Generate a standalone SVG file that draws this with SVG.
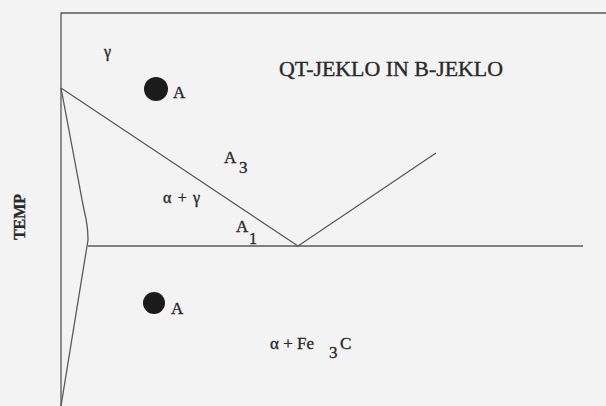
<svg xmlns="http://www.w3.org/2000/svg" width="606" height="406" viewBox="0 0 606 406">
<style>
.ln{fill:none;stroke:#5a5a5a;stroke-width:1.3}
text{font-family:'Liberation Serif', 'DejaVu Serif', serif;fill:#2a2a2a;stroke:#2a2a2a;stroke-width:0.35}
.dot{fill:#1c1c1c}
</style>
<rect x="0" y="0" width="606" height="406" fill="#f3f3f3"/>
<g id="connectors">
<path class="ln" d="M606,13 H61 V406"/>
<path class="ln" d="M61,88 L298,246 L436,153"/>
<path class="ln" d="M88,246 H583"/>
<path class="ln" d="M61,88 L84,210 Q88,225 88,240 L61,406"/>
</g>
<g id="title"><text x="279" y="76" font-size="20" textLength="224" lengthAdjust="spacingAndGlyphs">QT-JEKLO IN B-JEKLO</text></g>
<g id="gamma"><text x="104" y="57" font-size="16">γ</text></g>
<g id="pointA1"><circle class="dot" cx="156" cy="89" r="12"/><text x="173" y="98" font-size="17">A</text></g>
<g id="A3"><text x="224" y="163" font-size="17">A</text><text x="239" y="173" font-size="17">3</text></g>
<g id="alphagamma"><text x="163" y="203" font-size="16" textLength="37" lengthAdjust="spacing">α + γ</text></g>
<g id="A1"><text x="236" y="232" font-size="17">A</text><text x="249" y="244" font-size="16">1</text></g>
<g id="pointA2"><circle class="dot" cx="154" cy="303" r="11"/><text x="171" y="314" font-size="17">A</text></g>
<g id="alphaFe3C"><text x="270" y="349" font-size="17" textLength="44" lengthAdjust="spacing">α + Fe</text><text x="329" y="358" font-size="17">3</text><text x="340" y="349" font-size="17">C</text></g>
<g id="temp"><text x="0" y="0" font-size="16" font-weight="bold" transform="translate(25,217) rotate(-90)" text-anchor="middle">TEMP</text></g>
</svg>
